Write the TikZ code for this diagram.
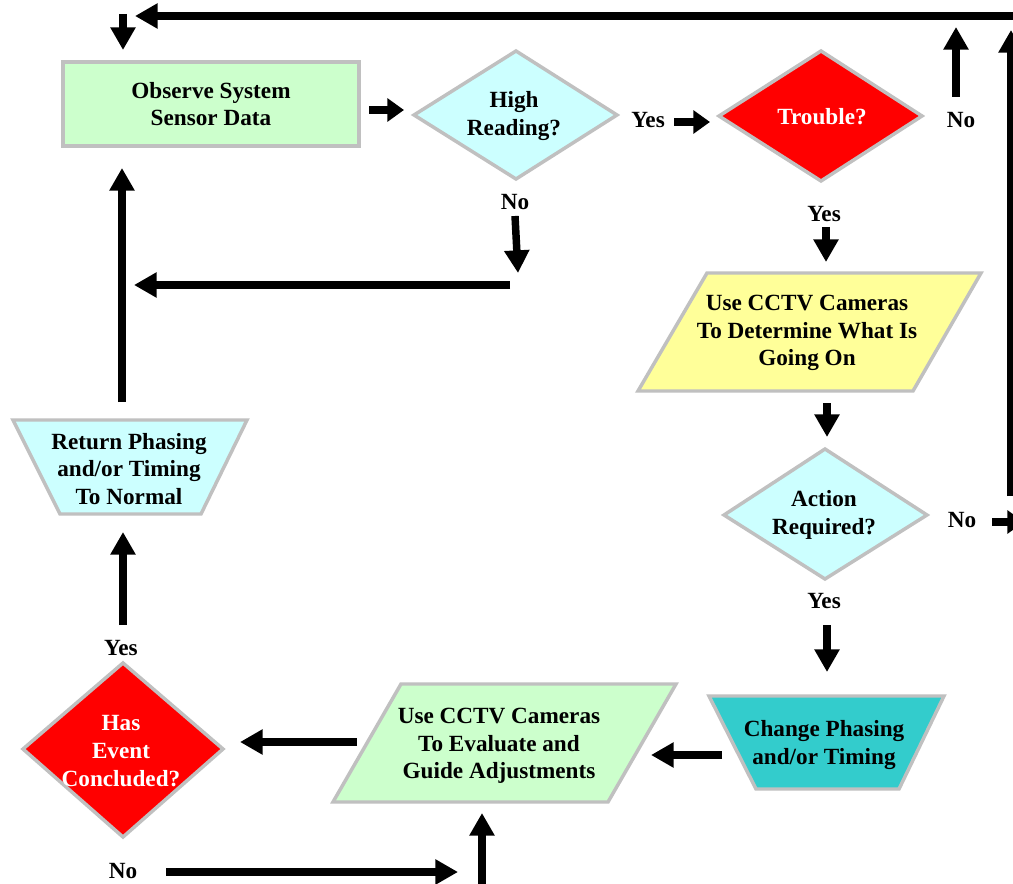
\documentclass[tikz,border=0pt]{standalone}
\usepackage{fontspec}
\setmainfont{Liberation Serif}
\usetikzlibrary{arrows.meta}
\definecolor{boxgray}{RGB}{192,192,192}
\definecolor{palegreen}{HTML}{CCFFCC}
\definecolor{palecyan}{HTML}{CCFFFF}
\definecolor{paleyellow}{HTML}{FFFF99}
\definecolor{tealbox}{HTML}{33CCCC}
\definecolor{redbox}{HTML}{FF0000}
\begin{document}
\begin{tikzpicture}[x=0.75pt,y=-0.75pt,
  shapebox/.style={draw=boxgray, line width=2.6pt, line join=miter},
  txt/.style={font=\bfseries\fontsize{17.4}{20.8}\selectfont, inner sep=0pt, align=center, text=black},
  wtxt/.style={txt, text=white},
  arr/.style={line width=5.6pt, -{Triangle[length=17pt,width=18pt]}},
  sarr/.style={line width=5.6pt, -{Triangle[length=12.5pt,width=17pt]}}]
\useasboundingbox (0,0) rectangle (1013,884);
\fill[white] (0,0) rectangle (1013,884);

% ---- shapes ----
\draw[shapebox, fill=palegreen] (63,62) rectangle (359,146);
\node[txt] (observe) at (211,104) {Observe System\\Sensor Data};

\draw[shapebox, fill=palecyan] (516,51) -- (617,115) -- (516,179) -- (414,115) -- cycle;
\node[txt] (high) at (514,116) {High\\Reading?};

\draw[shapebox, fill=redbox] (821,51) -- (922,116) -- (821,181) -- (719,116) -- cycle;
\node[wtxt] (trouble) at (822,117) {Trouble?};

\draw[shapebox, fill=paleyellow] (707,273) -- (981,273) -- (913,391) -- (638,391) -- cycle;
\node[txt] (cctv1) at (807,333) {Use CCTV Cameras\\To Determine What Is\\Going On};

\draw[shapebox, fill=palecyan] (825,449) -- (927,515) -- (825,579) -- (724,515) -- cycle;
\node[txt] (action) at (824,515) {Action\\Required?};

\draw[shapebox, fill=tealbox] (709,696) -- (944,696) -- (899,789) -- (756,789) -- cycle;
\node[txt] (change) at (824,745) {Change Phasing\\and/or Timing};

\draw[shapebox, fill=palegreen] (401,684) -- (676,684) -- (608,802) -- (333,802) -- cycle;
\node[txt] (cctv2) at (499,746) {Use CCTV Cameras\\To Evaluate and\\Guide Adjustments};

\draw[shapebox, fill=redbox] (123,663) -- (223,749) -- (123,837) -- (23,749) -- cycle;
\node[wtxt] (event) at (121,751) {Has\\Event\\Concluded?};

\draw[shapebox, fill=palecyan] (13,420) -- (247,420) -- (201,514) -- (60,514) -- cycle;
\node[txt] (return) at (129,469) {Return Phasing\\and/or Timing\\To Normal};

% ---- labels ----
\node[txt] (yes1) at (648,120) {Yes};
\node[txt] (no1) at (961,120) {No};
\node[txt] (no2) at (515,202) {No};
\node[txt] (yes2) at (824,214) {Yes};
\node[txt] (no3) at (962,520) {No};
\node[txt] (yes3) at (824,601) {Yes};
\node[txt] (yes4) at (121,648) {Yes};
\node[txt] (no4) at (123,871) {No};

% ---- connectors ----
\draw[arr] (1025,16) coordinate (topS) -- (135,16) coordinate (topE);
\draw[arr] (123,14) coordinate (inS) -- (123,50) coordinate (inE);
\draw[sarr] (369,110) coordinate (ohS) -- (404,110) coordinate (ohE);
\draw[sarr] (674,122) coordinate (ytS) -- (710,122) coordinate (ytE);
\draw[arr] (956,97) coordinate (tnS) -- (956,27) coordinate (tnE);
\draw[arr] (1011,496) coordinate (rvS) -- (1011,30) coordinate (rvE);
\draw[arr] (515,216) coordinate (hnS) -- (518,273) coordinate (hnE);
\draw[arr] (510,285) coordinate (hlS) -- (134,285) coordinate (hlE);
\draw[arr] (826,227) coordinate (tyS) -- (826,262) coordinate (tyE);
\draw[arr] (827,403) coordinate (caS) -- (827,437) coordinate (caE);
\draw[sarr] (992,522) coordinate (anS) -- (1024,522) coordinate (anE);
\draw[arr] (827,625) coordinate (ayS) -- (827,672) coordinate (ayE);
\draw[arr] (722,755) coordinate (cgS) -- (651,755) coordinate (cgE);
\draw[arr] (357,742) coordinate (geS) -- (240,742) coordinate (geE);
\draw[arr] (166,872) coordinate (enS) -- (458,872) coordinate (enE);
\draw[arr] (482,890) coordinate (ugS) -- (482,813) coordinate (ugE);
\draw[arr] (123,625) coordinate (eyS) -- (123,532) coordinate (eyE);
\draw[arr] (122,402) coordinate (roS) -- (122,168) coordinate (roE);
\end{tikzpicture}
\end{document}
